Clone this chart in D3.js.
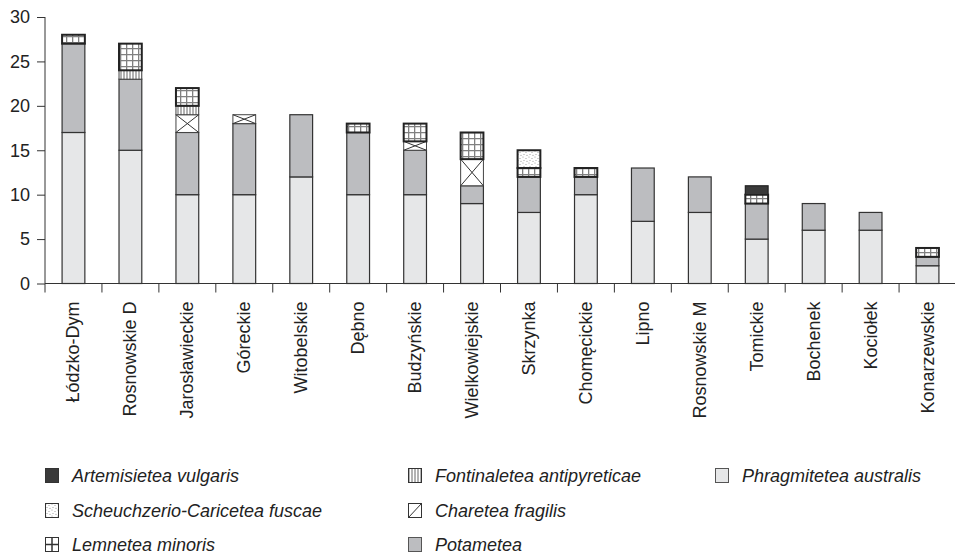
<!DOCTYPE html>
<html><head><meta charset="utf-8">
<script src="https://cdn.jsdelivr.net/npm/d3@7/dist/d3.min.js"></script>
<style>
body{margin:0;background:#fff;}
svg text{font-family:"Liberation Sans",Arial,sans-serif;fill:#222;}
</style></head>
<body><svg id="c" width="955" height="554"></svg>
<script>
const categories = ["Łódzko-Dym","Rosnowskie D","Jarosławieckie","Góreckie","Witobelskie","Dębno","Budzyńskie","Wielkowiejskie","Skrzynka","Chomęcickie","Lipno","Rosnowskie M","Tomickie","Bochenek","Kociołek","Konarzewskie"];
const phragmitetea = [17,15,10,10,12,10,10,9,8,10,7,8,5,6,6,2];
const potametea    = [10,8,7,8,7,7,5,2,4,2,6,4,4,3,2,1];
const charetea     = [0,0,2,1,0,0,1,3,0,0,0,0,0,0,0,0];
const fontinaletea = [0,1,1,0,0,0,0,0,0,0,0,0,0,0,0,0];
const lemnetea     = [1,3,2,0,0,1,2,3,1,1,0,0,1,0,0,1];
const scheuchzerio = [0,0,0,0,0,0,0,0,2,0,0,0,0,0,0,0];
const artemisietea = [0,0,0,0,0,0,0,0,0,0,0,0,1,0,0,0];
const yTicks = [0,5,10,15,20,25,30];

const seriesDefs = [
  {key:"phr", name:"Phragmitetea australis", values:phragmitetea},
  {key:"pot", name:"Potametea", values:potametea},
  {key:"cha", name:"Charetea fragilis", values:charetea},
  {key:"fon", name:"Fontinaletea antipyreticae", values:fontinaletea},
  {key:"lem", name:"Lemnetea minoris", values:lemnetea},
  {key:"sch", name:"Scheuchzerio-Caricetea  fuscae", values:scheuchzerio},
  {key:"art", name:"Artemisietea vulgaris", values:artemisietea}
];
const legendOrder = [["art","sch","lem"],["fon","cha","pot"],["phr"]];

const svg = d3.select("#c");
const defs = svg.append("defs");
const pl = defs.append("pattern").attr("id","p-lem").attr("patternUnits","userSpaceOnUse").attr("width",6).attr("height",6);
pl.append("rect").attr("width",6).attr("height",6).attr("fill","#fff");
pl.append("path").attr("d","M0,0.6H6M0.6,0V6").attr("stroke","#808080").attr("stroke-width",1.4);
const pf = defs.append("pattern").attr("id","p-fon").attr("patternUnits","userSpaceOnUse").attr("width",3).attr("height",3);
pf.append("rect").attr("width",3).attr("height",3).attr("fill","#fff");
pf.append("path").attr("d","M1,0V3").attr("stroke","#666").attr("stroke-width",1);
const ps = defs.append("pattern").attr("id","p-sch").attr("patternUnits","userSpaceOnUse").attr("width",6).attr("height",6);
ps.append("rect").attr("width",6).attr("height",6).attr("fill","#fff");
[[1,1],[4,2.5],[2,4.5],[5,5.3]].forEach(p=>ps.append("circle").attr("cx",p[0]).attr("cy",p[1]).attr("r",0.6).attr("fill","#999"));

const fills = {phr:"#e6e7e8", pot:"#bcbdc0", cha:"#fff", fon:"url(#p-fon)", lem:"url(#p-lem)", sch:"url(#p-sch)", art:"#3a3a3a"};
const strokes = {phr:"#333", pot:"#333", cha:"#444", fon:"#444", lem:"#222", sch:"#222", art:"#222"};
const sw = {phr:1.2, pot:1.2, cha:1, fon:1, lem:2, sch:2, art:1.2};

const left = 45, top0 = 17, bottom0 = 283.5;
const x = d3.scaleBand().domain(categories).range([left, 956]).paddingInner(0.6).paddingOuter(0.3);
const y = d3.scaleLinear().domain([0,30]).range([bottom0, top0]);

const table = categories.map((c,i)=>{const o={cat:c}; seriesDefs.forEach(s=>o[s.key]=s.values[i]); return o;});
const stack = d3.stack().keys(seriesDefs.map(s=>s.key))(table);

const yAxis = svg.append("g").attr("transform",`translate(${left},0)`).call(d3.axisLeft(y).tickValues(yTicks).tickSize(8).tickPadding(7));
yAxis.select(".domain").attr("stroke","#333").attr("d",`M-0,${y(30)}H0V${y(0)}`);
yAxis.selectAll(".tick line").attr("stroke","#333");
yAxis.selectAll("text").attr("font-size",18).attr("fill","#222").attr("font-family","Liberation Sans, Arial, sans-serif");

const step = x.step();
const xg = svg.append("g");
xg.append("line").attr("x1",left).attr("x2",955).attr("y1",y(0)).attr("y2",y(0)).attr("stroke","#333");
d3.range(categories.length+1).forEach(i=>{
  const xx = left + i*step;
  xg.append("line").attr("x1",xx).attr("x2",xx).attr("y1",y(0)).attr("y2",y(0)+9).attr("stroke","#333");
});
xg.selectAll("text.cat").data(categories).enter().append("text")
  .attr("transform",d=>`translate(${x(d)+x.bandwidth()/2+6},${y(0)+18}) rotate(-90)`)
  .attr("text-anchor","end").attr("font-size",18).text(d=>d);

stack.forEach(layer=>{
  const k = layer.key;
  const g = svg.append("g");
  layer.forEach((d,i)=>{
    if(d[1]-d[0] <= 0) return;
    const cx = x(categories[i]), w = x.bandwidth();
    const y0 = y(d[0]), y1 = y(d[1]);
    g.append("rect").attr("x",cx).attr("y",y1).attr("width",w).attr("height",y0-y1)
      .attr("fill",fills[k]).attr("stroke",strokes[k]).attr("stroke-width",sw[k]);
    if(k==="cha"){
      g.append("path").attr("d",`M${cx},${y1}L${cx+w},${y0}M${cx+w},${y1}L${cx},${y0}`)
        .attr("stroke","#333").attr("stroke-width",1).attr("fill","none");
    }
  });
});

const colX = [45, 408, 715], rowY = [468, 503, 537];
const byKey = Object.fromEntries(seriesDefs.map(s=>[s.key,s]));
legendOrder.forEach((col,ci)=>col.forEach((k,ri)=>{
  const g = svg.append("g").attr("transform",`translate(${colX[ci]},${rowY[ri]})`);
  const fillL = k==="lem" ? "#fff" : fills[k];
  g.append("rect").attr("x",0.5).attr("y",0.5).attr("width",13).attr("height",14)
    .attr("fill", k==="fon" ? "#fff" : fillL).attr("stroke", k==="phr"||k==="pot" ? "#555" : "#333").attr("stroke-width",1);
  if(k==="fon") g.append("rect").attr("x",1).attr("y",1).attr("width",12).attr("height",13).attr("fill","url(#p-fon)");
  if(k==="lem") g.append("path").attr("d","M7,0.5V14.5M0.5,7.5H13.5").attr("stroke","#333").attr("stroke-width",1.5);
  if(k==="cha") g.append("path").attr("d","M0.5,14.5L13.5,0.5").attr("stroke","#333").attr("stroke-width",1);
  g.append("text").attr("x",27).attr("y",13.5).attr("font-size",18).attr("font-style","italic").text(byKey[k].name);
}));
</script></body></html>
